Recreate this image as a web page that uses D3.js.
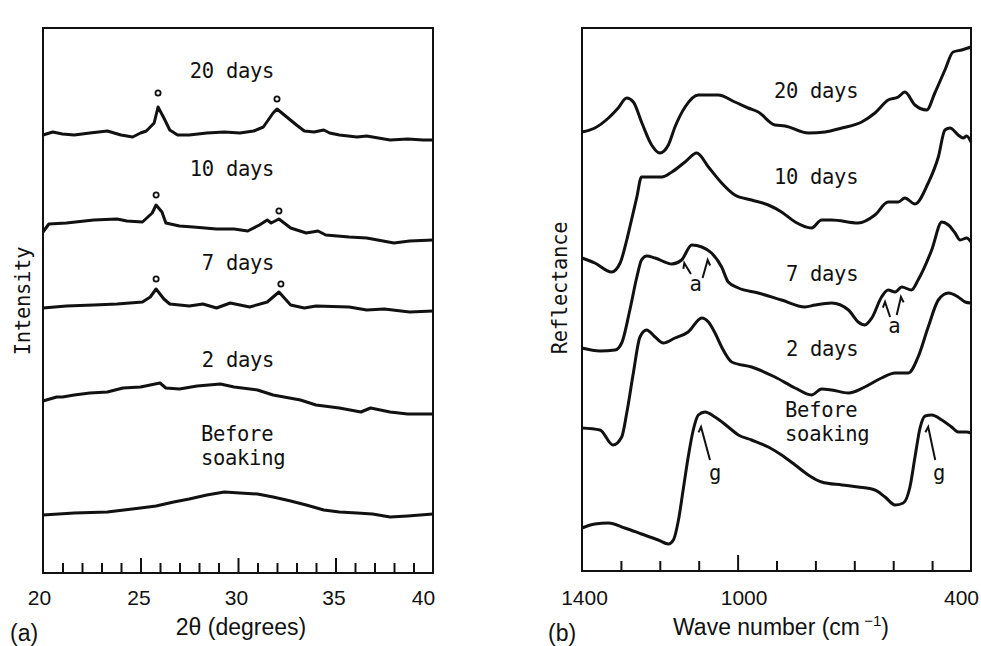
<!DOCTYPE html>
<html>
<head>
<meta charset="utf-8">
<script src="https://cdn.jsdelivr.net/npm/d3@7"></script>
<style>
  body { margin: 0; background: #fff; }
  .lbl { font-family: "DejaVu Sans Mono", monospace; font-size: 20.5px; letter-spacing: -0.3px; fill: #111; }
  .ax { font-family: "Liberation Sans", Arial, sans-serif; fill: #111; }
</style>
</head>
<body>
<div id="chart"></div>
<script>
// XRD traces, [2theta, intensity (arb.)]
let xrd20 = [[20.0,438],[20.5,441],[21.0,439],[21.6,438],[22.4,440],[23.3,442],[24.0,438],[24.6,436],[25.0,440],[25.3,442],[25.7,450],[25.9,466],[26.2,455],[26.5,443],[26.9,438],[27.5,438],[28.4,440],[29.3,441],[30.1,440],[30.8,442],[31.3,446],[31.8,460],[32.0,464],[32.5,456],[33.0,448],[33.4,442],[33.9,441],[34.4,443],[34.7,440],[35.2,438],[36.1,436],[36.6,437],[36.9,436],[37.8,433],[38.7,434],[39.5,433],[40.0,433]];
let xrd10 = [[20.0,341],[20.3,349],[21.2,350],[22.6,353],[23.8,354],[24.3,352],[25.1,351],[25.6,360],[25.8,368],[26.1,361],[26.3,350],[27.0,347],[27.7,346],[28.9,344],[29.8,344],[30.5,342],[31.1,348],[31.5,353],[31.7,350],[32.1,354],[32.7,345],[33.5,340],[34.1,342],[34.5,338],[35.7,336],[36.6,335],[38.0,330],[38.8,332],[40.0,333]];
let xrd7 = [[20.0,265],[21.2,267],[22.6,268],[23.8,269],[25.1,271],[25.5,276],[25.8,284],[26.2,274],[26.5,269],[27.5,267],[28.2,269],[28.9,265],[29.6,270],[30.6,266],[31.5,271],[32.1,281],[32.7,268],[33.4,265],[34.0,267],[35.7,266],[36.6,263],[37.5,264],[38.8,261],[40.0,262]];
let xrd2 = [[20.0,172],[20.7,176],[21.0,176],[21.6,178],[22.4,180],[23.3,181],[24.1,185],[25.0,186],[26.0,190],[26.3,185],[27.0,184],[27.9,187],[29.1,189],[29.8,186],[31.0,183],[31.8,178],[33.2,173],[34.0,168],[35.2,165],[36.3,161],[36.8,165],[37.8,161],[38.7,159],[40.0,159]];
let xrd0 = [[20.0,58],[21.6,60],[23.3,61],[25.0,65],[25.8,67],[26.7,71],[27.5,74],[28.4,78],[29.3,81],[30.1,80],[31.0,79],[31.8,76],[32.7,72],[33.5,68],[34.4,63],[35.2,61],[36.1,60],[36.9,59],[37.8,56],[38.7,57],[40.0,59]];

// open circles over the apatite peaks
let hap20 = [[25.9,480],[32.0,474]];
let hap10 = [[25.8,378],[32.1,362]];
let hap7 = [[25.8,294],[32.2,289]];

// IR reflection traces, [wave number, reflectance (arb.)]
let ir20 = [[1400,439],[1367,443],[1332,453],[1307,463],[1285,473],[1268,469],[1246,448],[1221,426],[1200,418],[1178,426],[1161,444],[1135,464],[1101,476],[1050,476],[1007,469],[973,463],[947,459],[904,446],[878,445],[818,438],[775,439],[732,443],[681,449],[647,458],[613,471],[587,474],[570,479],[544,466],[514,461],[493,478],[467,501],[446,519],[424,521],[400,524]];
let ir10 = [[1400,313],[1367,308],[1324,299],[1302,308],[1285,331],[1277,344],[1259,374],[1247,394],[1195,394],[1169,399],[1135,409],[1105,418],[1075,404],[1041,388],[1007,376],[964,371],[921,366],[887,359],[852,349],[810,343],[784,351],[758,351],[690,348],[647,356],[613,369],[587,369],[570,373],[544,367],[510,388],[484,414],[467,441],[454,443],[433,436],[420,433],[411,435],[400,429]];
let ir7 = [[1400,223],[1354,220],[1315,221],[1298,228],[1277,261],[1259,294],[1247,311],[1234,315],[1212,313],[1169,307],[1144,311],[1118,326],[1092,324],[1067,318],[1041,304],[1024,289],[998,283],[947,278],[887,271],[827,264],[801,266],[758,268],[715,261],[690,249],[673,246],[655,253],[630,274],[613,281],[595,279],[578,284],[553,281],[536,291],[501,321],[475,349],[458,346],[441,338],[428,331],[411,333],[400,329]];
let ir2 = [[1400,143],[1354,141],[1320,126],[1298,134],[1285,158],[1268,198],[1251,234],[1234,241],[1212,234],[1191,228],[1161,233],[1127,239],[1092,253],[1075,249],[1058,238],[1041,224],[1015,209],[964,204],[904,194],[852,183],[810,176],[784,182],[758,181],[715,178],[673,184],[630,193],[595,198],[561,198],[536,214],[510,244],[484,271],[458,278],[433,274],[415,269],[400,268]];
let ir0 = [[1400,43],[1367,47],[1332,48],[1290,43],[1247,37],[1204,31],[1178,27],[1165,31],[1152,51],[1140,81],[1127,114],[1114,141],[1101,156],[1084,159],[1058,154],[1024,144],[998,136],[964,131],[921,124],[887,116],[852,106],[818,96],[784,89],[732,86],[690,84],[647,81],[621,74],[595,66],[574,68],[557,84],[544,114],[531,143],[518,155],[501,156],[475,151],[450,144],[433,139],[411,139],[400,138]];

// annotation arrows [from, tip] and their letters
let arrowsB = [[[1120,297],[1137,308]],[[1090,293],[1077,311]],[[608,254],[621,269]],[[591,256],[580,274]],[[1071,111],[1094,144]],[[492,111],[510,144]]];
let lettersB = [['a',1108,280],['a',597,238],['g',1058,91],['g',482,91]];

let seriesLabels = ['20 days','10 days','7 days','2 days'];
let labelYA = [495,397,303,206];
let labelYB = [473,387,290,215];
let xTicksA = d3.range(21,40);
let xLabelsA = [20,25,30,35,40];
let xTicksB = [1300,1200,1100,1000,900,800,700,600,500];
let xLabelsB = [1400,1000,400];

let svgWidth = 981;
let svgHeight = 646;

let svg = d3.select('#chart').append('svg')
    .attr('width', svgWidth)
    .attr('height', svgHeight);

svg.append('rect').attr('width', svgWidth).attr('height', svgHeight).attr('fill', '#fff');

// panel (a)
let xA = d3.scaleLinear().domain([20, 40]).range([43, 433]);
let yA = d3.scaleLinear().domain([0, 545]).range([573, 28]);
// panel (b)
let xB = d3.scaleLinear().domain([1400, 400]).range([582, 971]);
let yB = d3.scaleLinear().domain([0, 543]).range([571, 28]);

function frame(x, y) {
    svg.append('rect')
        .attr('x', x.range()[0]).attr('y', y.range()[1])
        .attr('width', x.range()[1] - x.range()[0])
        .attr('height', y.range()[0] - y.range()[1])
        .attr('fill', 'none').attr('stroke', '#111').attr('stroke-width', 2);
}
frame(xA, yA);
frame(xB, yB);

// inward ticks
let tickA = svg.append('g').attr('transform', `translate(0,${yA.range()[0]})`)
    .call(d3.axisBottom(xA).tickValues(xTicksA).tickSize(-10).tickFormat(''));
tickA.selectAll('line').filter(d => d % 5 === 0).attr('y2', -15);
let labA = svg.append('g').attr('transform', `translate(0,${yA.range()[0]})`)
    .call(d3.axisBottom(xA).tickValues(xLabelsA).tickSize(0).tickPadding(17));
labA.selectAll('text').attr('dx', d => d === 40 ? -10 : (d === 20 ? -4 : -2));

let tickB = svg.append('g').attr('transform', `translate(0,${yB.range()[0]})`)
    .call(d3.axisBottom(xB).tickValues(xTicksB).tickSize(-10).tickFormat(''));
tickB.selectAll('line').filter(d => d === 1000).attr('y2', -16);
let labB = svg.append('g').attr('transform', `translate(0,${yB.range()[0]})`)
    .call(d3.axisBottom(xB).tickValues(xLabelsB).tickSize(0).tickPadding(19).tickFormat(d3.format('d')));
labB.selectAll('text').attr('dx', d => d === 400 ? -10 : (d === 1000 ? 6 : 2));

svg.selectAll('.domain').remove();
svg.selectAll('.tick line').attr('stroke', '#111').attr('stroke-width', 2);
svg.selectAll('.tick text').attr('class', 'ax').style('font-size', '21px').attr('font-family', null).attr('font-size', null);

// traces
let lineA = d3.line().x(d => xA(d[0])).y(d => yA(d[1]));
let lineB = d3.line().x(d => xB(d[0])).y(d => yB(d[1])).curve(d3.curveMonotoneX);

svg.selectAll('.xrd').data([xrd20, xrd10, xrd7, xrd2, xrd0]).enter().append('path')
    .attr('d', lineA).attr('fill', 'none').attr('stroke', '#111')
    .attr('stroke-width', 3).attr('stroke-linejoin', 'round');
svg.selectAll('.ir').data([ir20, ir10, ir7, ir2, ir0]).enter().append('path')
    .attr('d', lineB).attr('fill', 'none').attr('stroke', '#111')
    .attr('stroke-width', 3).attr('stroke-linejoin', 'round');

svg.selectAll('.hap').data(hap20.concat(hap10, hap7)).enter().append('circle')
    .attr('cx', d => xA(d[0])).attr('cy', d => yA(d[1])).attr('r', 2.6)
    .attr('fill', '#fff').attr('stroke', '#111').attr('stroke-width', 1.8);

// series labels
seriesLabels.forEach((t, i) => {
    svg.append('text').attr('class', 'lbl').attr('text-anchor', 'end')
        .attr('x', xA(31.85)).attr('y', yA(labelYA[i])).text(t);
    svg.append('text').attr('class', 'lbl').attr('text-anchor', 'end')
        .attr('x', xB(690)).attr('y', yB(labelYB[i])).text(t);
});
function twoLine(x, y) {
    svg.append('text').attr('class', 'lbl').attr('x', x).attr('y', y - 2).text('Before');
    svg.append('text').attr('class', 'lbl').attr('x', x).attr('y', y + 22).text('soaking');
}
twoLine(xA(28.1), yA(130));
twoLine(xB(878), yB(152));

// arrows with a single barb
arrowsB.forEach(a => {
    let x0 = xB(a[0][0]), y0 = yB(a[0][1]), x1 = xB(a[1][0]), y1 = yB(a[1][1]);
    let len = Math.hypot(x1 - x0, y1 - y0);
    let ux = (x1 - x0) / len, uy = (y1 - y0) / len;
    let ang = 0.7 * (ux > 0 ? -1 : 1);
    let bx = x1 - 6 * (ux * Math.cos(ang) - uy * Math.sin(ang));
    let by = y1 - 6 * (ux * Math.sin(ang) + uy * Math.cos(ang));
    svg.append('path')
        .attr('d', `M${x0},${y0}L${x1},${y1}L${bx},${by}`)
        .attr('fill', 'none').attr('stroke', '#111').attr('stroke-width', 2);
});
lettersB.forEach(d => {
    svg.append('text').attr('class', 'lbl').attr('text-anchor', 'middle')
        .attr('x', xB(d[1])).attr('y', yB(d[2])).text(d[0]);
});

// axis titles
svg.append('text').attr('class', 'lbl').attr('text-anchor', 'middle')
    .attr('transform', 'translate(30,301) rotate(-90)').text('Intensity');
svg.append('text').attr('class', 'lbl').attr('text-anchor', 'middle')
    .attr('transform', 'translate(567,288) rotate(-90)').text('Reflectance');

svg.append('text').attr('class', 'ax').style('font-size', '23px')
    .attr('x', 241).attr('y', 635).attr('text-anchor', 'middle').text('2θ (degrees)');
let wn = svg.append('text').attr('class', 'ax').style('font-size', '23px')
    .attr('x', 781).attr('y', 635).attr('text-anchor', 'middle');
wn.append('tspan').text('Wave number (cm');
wn.append('tspan').attr('dy', -9).style('font-size', '15px').text(' −1');
wn.append('tspan').attr('dy', 9).text(')');

svg.append('text').attr('class', 'ax').style('font-size', '23px').attr('x', 10).attr('y', 641).text('(a)');
svg.append('text').attr('class', 'ax').style('font-size', '23px').attr('x', 548).attr('y', 641).text('(b)');
</script>
</body>
</html>
